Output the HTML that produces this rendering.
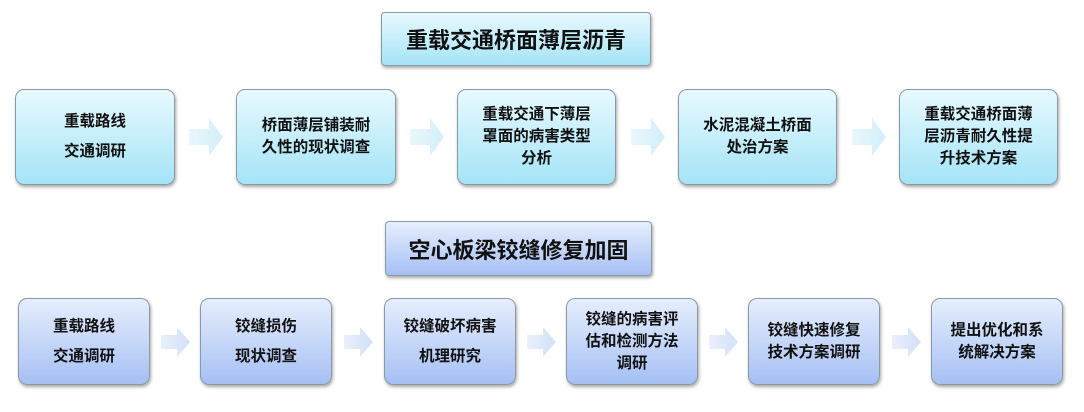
<!DOCTYPE html><html><head><meta charset="utf-8"><style>
body{margin:0;width:1084px;height:412px;background:#fff;position:relative;overflow:hidden;font-family:"Liberation Sans","Noto Sans CJK SC",sans-serif;}
.b{position:absolute;box-sizing:border-box;border:1px solid #8a9aa4;border-radius:9px;display:flex;align-items:center;justify-content:center;text-align:center;color:#111;font-size:15.5px;font-weight:600;box-shadow:1px 2px 3px rgba(0,0,0,.35);}
.c{background:linear-gradient(#e8f9fe,#a4e4f7);}
.v{background:linear-gradient(#e6eefd,#a6c0f4);}
.t{font-size:22px;border-radius:4px;}
.a{position:absolute;}
</style></head><body>
<div class="b c t" style="left:381px;top:12px;width:270px;height:54px">重载交通桥面薄层沥青</div>
<div class="b c" style="left:15px;top:89px;width:160px;height:96px;line-height:30px">重载路线<br>交通调研</div>
<div class="b c" style="left:236px;top:89px;width:160px;height:96px;line-height:22px">桥面薄层铺装耐<br>久性的现状调查</div>
<div class="b c" style="left:457px;top:89px;width:159px;height:96px;line-height:22px">重载交通下薄层<br>罩面的病害类型<br>分析</div>
<div class="b c" style="left:678px;top:89px;width:159px;height:96px;line-height:22px">水泥混凝土桥面<br>处治方案</div>
<div class="b c" style="left:899px;top:89px;width:159px;height:96px;line-height:22px">重载交通桥面薄<br>层沥青耐久性提<br>升技术方案</div>
<div class="b v t" style="left:385px;top:221px;width:267px;height:55px">空心板梁铰缝修复加固</div>
<div class="b v" style="left:18px;top:298px;width:132px;height:87px;line-height:30px">重载路线<br>交通调研</div>
<div class="b v" style="left:200px;top:298px;width:132px;height:87px;line-height:30px">铰缝损伤<br>现状调查</div>
<div class="b v" style="left:384px;top:298px;width:132px;height:87px;line-height:30px">铰缝破坏病害<br>机理研究</div>
<div class="b v" style="left:566px;top:298px;width:132px;height:87px;line-height:22px">铰缝的病害评<br>估和检测方法<br>调研</div>
<div class="b v" style="left:748px;top:298px;width:132px;height:87px;line-height:22px">铰缝快速修复<br>技术方案调研</div>
<div class="b v" style="left:931px;top:298px;width:132px;height:87px;line-height:22px">提出优化和系<br>统解决方案</div>
<svg class="a" style="left:0;top:0" width="1084" height="412">
<defs><linearGradient id="g1" x1="0" y1="0" x2="1" y2="0"><stop offset="0" stop-color="#eaf7fc"/><stop offset="1" stop-color="#d2eff9"/></linearGradient>
<linearGradient id="g2" x1="0" y1="0" x2="1" y2="0"><stop offset="0" stop-color="#eaf0fc"/><stop offset="1" stop-color="#d3e0f7"/></linearGradient>
<g id="ar1"><polygon points="0,-8 20,-8 20,-19 34,0 20,19 20,8 0,8"/></g>
<g id="ar2"><polygon points="0,-7 16,-7 16,-15 29,0 16,15 16,7 0,7"/></g></defs>
<g fill="url(#g1)">
<use href="#ar1" x="189" y="137"/><use href="#ar1" x="410" y="137"/><use href="#ar1" x="631" y="137"/><use href="#ar1" x="852" y="137"/></g>
<g fill="url(#g2)">
<use href="#ar2" x="161" y="342"/><use href="#ar2" x="344" y="342"/><use href="#ar2" x="527" y="342"/><use href="#ar2" x="709" y="342"/><use href="#ar2" x="892" y="342"/></g>
</svg>
</body></html>
